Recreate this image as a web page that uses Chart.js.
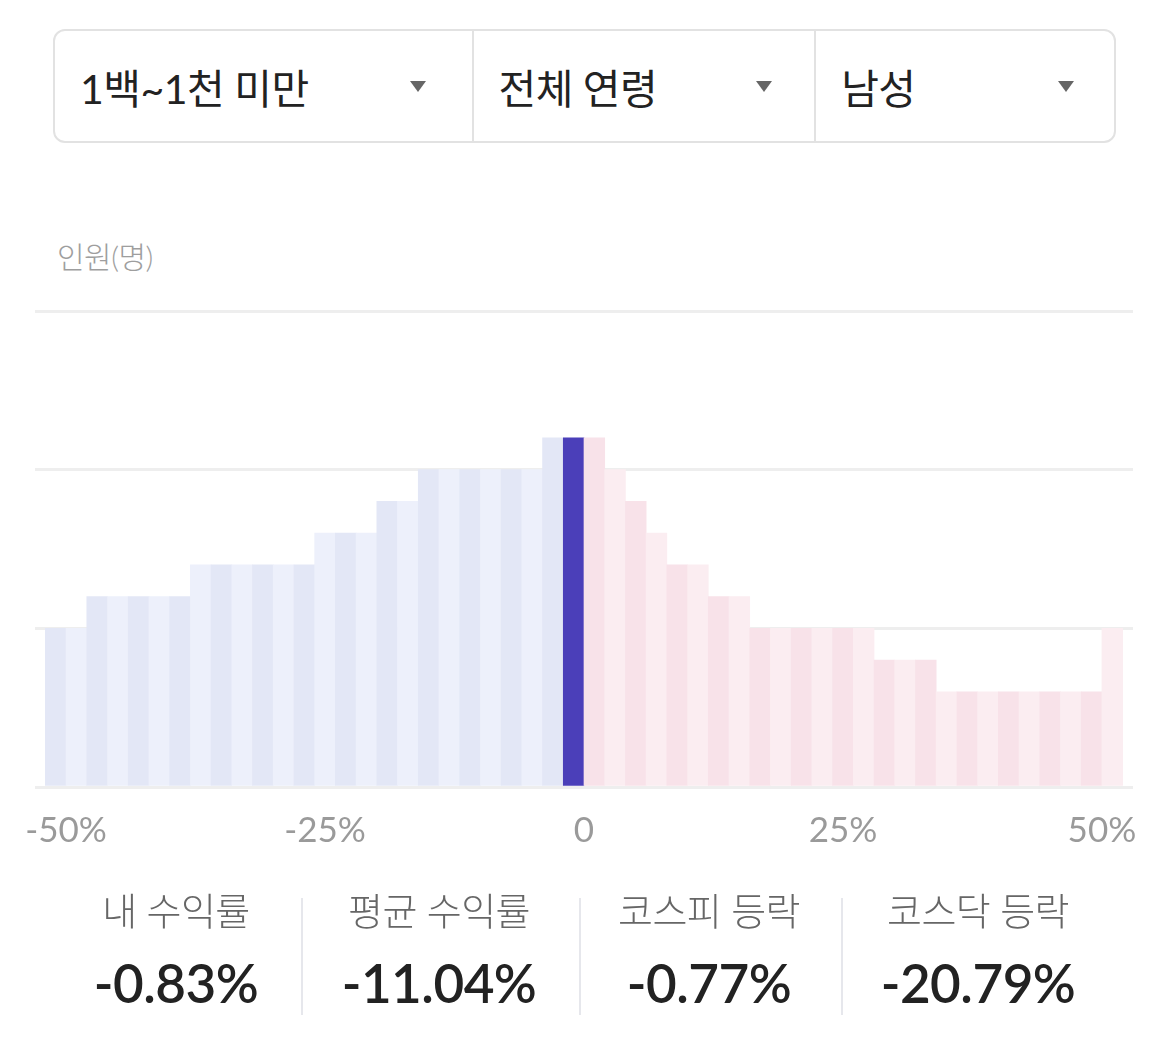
<!DOCTYPE html>
<html lang="ko">
<head>
<meta charset="utf-8">
<script src="https://cdn.jsdelivr.net/npm/chart.js@4.4.1/dist/chart.umd.min.js"></script>
<style>
  html, body { margin: 0; padding: 0; background: #fff; }
  body { width: 1170px; height: 1059px; position: relative; overflow: hidden;
         font-family: Lato, "Noto Sans CJK KR", sans-serif; }
  .filters { position: absolute; left: 53px; top: 29px; width: 1063px; height: 114px;
             box-sizing: border-box; border: 2px solid #e2e2e2; border-radius: 12px;
             display: flex; overflow: hidden; }
  .seg { position: relative; height: 100%; box-sizing: border-box; display: flex; align-items: center;
         font-size: 41px; font-weight: 400; color: #222; padding-left: 25px; letter-spacing: -0.5px; }
  .seg.mid { border-left: 2px solid #e2e2e2; border-right: 2px solid #e2e2e2; padding-left: 24px; }
  .seg .tri { position: absolute; top: 50%; width: 0; height: 0; margin-top: -5px;
              border-left: 8px solid transparent; border-right: 8px solid transparent;
              border-top: 11px solid #666; }
  .ylabel { position: absolute; left: 57px; top: 233px; font-size: 30px; font-weight: 300; color: #9e9e9e; letter-spacing: -0.5px; }
  #wrap { position: absolute; left: 0; top: 290px; width: 1170px; height: 605px; }
  .stat { position: absolute; transform: translateX(-50%); white-space: nowrap; text-align: center; }
  .stat .lab { font-size: 38px; font-weight: 300; color: #666; line-height: 1; letter-spacing: -0.5px; }
  .stat .val { font-size: 53px; font-weight: 600; color: #222; line-height: 1; margin-top: 27px; letter-spacing: -0.5px; }
  .divider { position: absolute; top: 898px; width: 2px; height: 117px; background: #e6e7ec; }
</style>
</head>
<body>
<div class="filters">
  <div class="seg" style="width:419px">1백~1천 미만<span class="tri" style="right:46px"></span></div>
  <div class="seg mid" style="width:345px">전체 연령<span class="tri" style="right:42px"></span></div>
  <div class="seg" style="width:299px">남성<span class="tri" style="right:40px"></span></div>
</div>
<div class="ylabel">인원(명)</div>
<div id="wrap"><canvas id="c" width="1170" height="605"></canvas></div>

<div class="stat" style="left:176px; top:891px"><div class="lab">내 수익률</div><div class="val" id="v0"></div></div>
<div class="divider" style="left:301px"></div>
<div class="stat" style="left:439px; top:891px"><div class="lab">평균 수익률</div><div class="val" id="v1"></div></div>
<div class="divider" style="left:579px"></div>
<div class="stat" style="left:709px; top:891px"><div class="lab">코스피 등락</div><div class="val" id="v2"></div></div>
<div class="divider" style="left:841px"></div>
<div class="stat" style="left:978px; top:891px"><div class="lab">코스닥 등락</div><div class="val" id="v3"></div></div>

<script>
// ---- data ----
const binCenters = [-51,-49,-47,-45,-43,-41,-39,-37,-35,-33,-31,-29,-27,-25,-23,-21,-19,-17,-15,-13,-11,-9,-7,-5,-3,-1,
                    1,3,5,7,9,11,13,15,17,19,21,23,25,27,29,31,33,35,37,39,41,43,45,47,49,51];
const lossCounts = [5,5,6,6,6,6,6,7,7,7,7,7,7,8,8,8,9,9,10,10,10,10,10,10,11,11];
const gainCounts = [11,10,9,8,7,7,6,6,5,5,5,5,5,5,4,4,4,3,3,3,3,3,3,3,3,5];
const xTicks = [-50,-25,0,25,50];
const myReturn = -0.83;
const statValues = [-0.83, -11.04, -0.77, -20.79];

// ---- build ----
const counts = lossCounts.concat(gainCounts);
const points = binCenters.map((x, i) => ({ x: x, y: counts[i] }));
const colors = binCenters.map((x, i) => {
  const inBin = myReturn >= x - 1 && myReturn < x + 1;
  if (inBin) return '#4b3fb9';
  const even = i % 2 === 0;
  if (x < 0) return even ? '#e3e7f6' : '#edf0fb';
  return even ? '#f8e2e9' : '#fbedf1';
});

statValues.forEach((v, i) => {
  document.getElementById('v' + i).textContent = v.toFixed(2) + '%';
});

Chart.defaults.font.family = 'Lato, "Noto Sans CJK KR", sans-serif';
new Chart(document.getElementById('c'), {
  type: 'bar',
  data: {
    datasets: [{
      data: points,
      backgroundColor: colors,
      borderWidth: 0,
      barPercentage: 1,
      categoryPercentage: 1
    }]
  },
  options: {
    responsive: false,
    animation: false,
    layout: { padding: { left: 35, right: 37, top: 21, bottom: 28 } },
    plugins: { legend: { display: false }, tooltip: { enabled: false } },
    scales: {
      x: {
        type: 'linear', min: -53, max: 53, offset: false,
        grid: { display: false },
        border: { display: false },
        afterBuildTicks: (axis) => { axis.ticks = xTicks.map(v => ({ value: v })); },
        ticks: {
          autoSkip: false, maxRotation: 0, padding: 15,
          color: '#9a9a9a', font: { size: 35 },
          callback: (v) => v === 0 ? '0' : v + '%'
        }
      },
      y: {
        min: 0, max: 15,
        ticks: { display: false, stepSize: 5 },
        grid: { color: '#eeeeee', lineWidth: 3, drawTicks: false },
        border: { display: false }
      }
    }
  }
});
</script>
</body>
</html>
